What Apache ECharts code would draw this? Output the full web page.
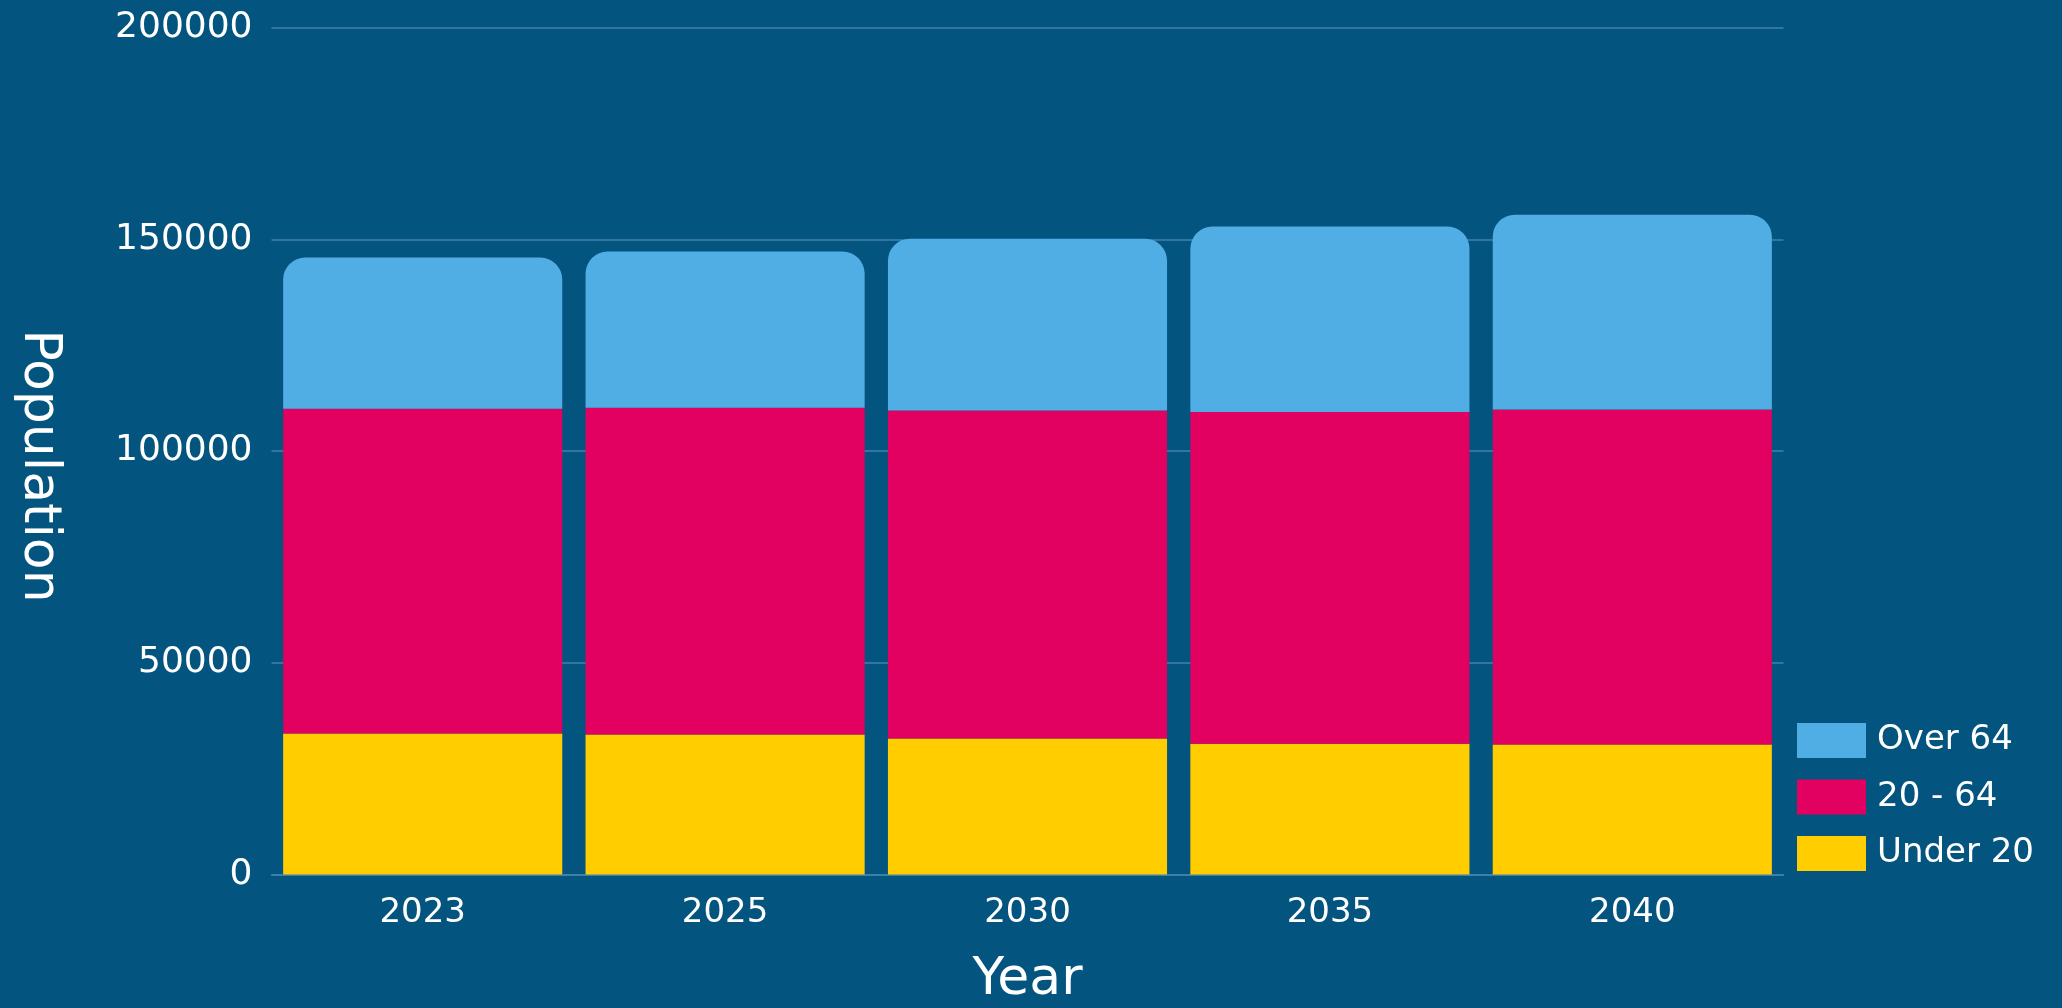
<!DOCTYPE html>
<html>
<head>
<meta charset="utf-8">
<script src="https://cdn.jsdelivr.net/npm/echarts@6/dist/echarts.min.js"></script>
<style>
  html, body { margin: 0; padding: 0; background: #03547F; }
  #chart { width: 2062px; height: 1008px; }
</style>
</head>
<body>
<div id="chart"></div>
<script>
const years = ['2023', '2025', '2030', '2035', '2040'];
const under20 = [33300, 33050, 32100, 30900, 30700];
const age20to64 = [76700, 77200, 77450, 78300, 79100];
const over64 = [35700, 36850, 40600, 43800, 46000];
const yTicks = [0, 50000, 100000, 150000, 200000];

const FONT = 'DejaVu Sans';
const chart = echarts.init(document.getElementById('chart'));
chart.setOption({
  backgroundColor: '#03547F',
  animation: false,
  textStyle: { fontFamily: FONT },
  grid: { left: 271.5, right: 278.5, top: 27.6, bottom: 133.5, containLabel: false, outerBoundsMode: 'none' },
  legend: {
    data: ['Over 64', '20 - 64', 'Under 20'],
    orient: 'vertical',
    left: 1792,
    top: 718,
    itemWidth: 69,
    itemHeight: 35,
    itemGap: 21.5,
    icon: 'rect',
    textStyle: { color: '#FFFFFF', fontSize: 34, fontFamily: FONT, padding: [0, 0, 0, 6] }
  },
  xAxis: {
    type: 'category',
    data: years,
    name: 'Year',
    nameLocation: 'middle',
    nameGap: 80,
    nameTextStyle: { color: '#FFFFFF', fontSize: 52, fontFamily: FONT },
    axisLine: { show: true, lineStyle: { color: '#4382AB', width: 1.5 } },
    axisTick: { show: false },
    axisLabel: { color: '#FFFFFF', fontSize: 34, fontFamily: FONT, margin: 22 }
  },
  yAxis: {
    type: 'value',
    min: yTicks[0],
    max: yTicks[yTicks.length - 1],
    interval: 50000,
    axisLine: { show: false },
    axisTick: { show: false },
    splitLine: { show: true, lineStyle: { color: '#4382AB', width: 1.5 } },
    axisLabel: { color: '#FFFFFF', fontSize: 36, fontFamily: FONT, margin: 19, formatter: v => String(v) }
  },
  graphic: [{
    type: 'text',
    x: 39,
    y: 466,
    rotation: -Math.PI / 2,
    style: {
      text: 'Population',
      font: '52px "DejaVu Sans"',
      fill: '#FFFFFF',
      align: 'center',
      verticalAlign: 'middle'
    }
  }],
  series: [
    {
      name: 'Under 20', type: 'bar', stack: 'pop', data: under20,
      barCategoryGap: '7.7%',
      itemStyle: { color: '#FFCD00' }
    },
    {
      name: '20 - 64', type: 'bar', stack: 'pop', data: age20to64,
      barCategoryGap: '7.7%',
      itemStyle: { color: '#E20060' }
    },
    {
      name: 'Over 64', type: 'bar', stack: 'pop', data: over64,
      barCategoryGap: '7.7%',
      itemStyle: { color: '#50AEE5', borderRadius: [22, 22, 0, 0] }
    }
  ]
});
</script>
</body>
</html>
